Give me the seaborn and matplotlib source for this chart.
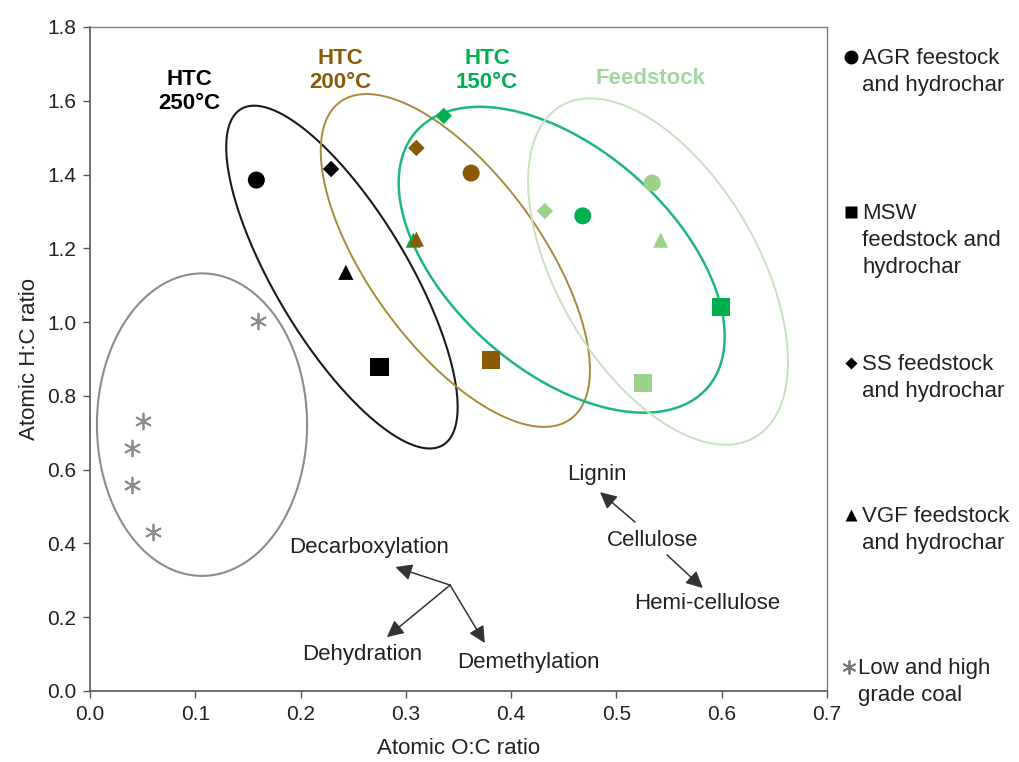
import numpy as np
import pandas as pd
import matplotlib
matplotlib.use("Agg")
import matplotlib.pyplot as plt
import seaborn as sns
from matplotlib.lines import Line2D

# ---------------- data ----------------
groups = ["Feedstock", "HTC 150°C", "HTC 200°C", "HTC 250°C", "Coal"]
# Feedstock
feed_type = ["AGR", "SS", "VGF", "MSW"]
feed_oc = [0.534, 0.432, 0.542, 0.525]
feed_hc = [1.377, 1.301, 1.222, 0.835]
# HTC 150
h150_type = ["SS", "AGR", "MSW", "VGF"]
h150_oc = [0.336, 0.468, 0.599, 0.307]
h150_hc = [1.559, 1.288, 1.041, 1.222]
# HTC 200
h200_type = ["SS", "AGR", "VGF", "MSW"]
h200_oc = [0.310, 0.362, 0.310, 0.381]
h200_hc = [1.472, 1.404, 1.225, 0.897]
# HTC 250
h250_type = ["AGR", "SS", "VGF", "MSW"]
h250_oc = [0.158, 0.229, 0.243, 0.275]
h250_hc = [1.385, 1.415, 1.135, 0.878]
# Coal
coal_type = ["Coal"] * 5
coal_oc = [0.160, 0.050, 0.040, 0.040, 0.060]
coal_hc = [1.003, 0.732, 0.659, 0.558, 0.431]

x_ticks = [0.0, 0.1, 0.2, 0.3, 0.4, 0.5, 0.6, 0.7]
y_ticks = [0.0, 0.2, 0.4, 0.6, 0.8, 1.0, 1.2, 1.4, 1.6, 1.8]

legend_labels = ["AGR feestock\nand hydrochar", "MSW\nfeedstock and\nhydrochar",
                 "SS feedstock\nand hydrochar", "VGF feedstock\nand hydrochar",
                 "Low and high\ngrade coal"]

# ---------------- style ----------------
sns.set_style("white")
plt.rcParams["font.family"] = ["Liberation Sans", "DejaVu Sans"]

col = {"Feedstock": "#9dd28c", "HTC 150°C": "#00b04f", "HTC 200°C": "#8b5a06",
       "HTC 250°C": "#000000", "Coal": "#8c8c8c"}
ell_col = {"Feedstock": "#c6e2c0", "HTC 150°C": "#1db87a", "HTC 200°C": "#a88a3a",
           "HTC 250°C": "#1a1a1a", "Coal": "#8c8c8c"}
markers = {"AGR": "o", "MSW": "s", "SS": "D", "VGF": "^", "Coal": (6, 2, 0)}
sizes = {"AGR": 150, "MSW": 170, "SS": 70, "VGF": 120, "Coal": 130}

rows = []
for g, t, xs, ys in [("Feedstock", feed_type, feed_oc, feed_hc),
                     ("HTC 150°C", h150_type, h150_oc, h150_hc),
                     ("HTC 200°C", h200_type, h200_oc, h200_hc),
                     ("HTC 250°C", h250_type, h250_oc, h250_hc),
                     ("Coal", coal_type, coal_oc, coal_hc)]:
    for ti, xi, yi in zip(t, xs, ys):
        rows.append({"group": g, "type": ti, "oc": xi, "hc": yi})
df = pd.DataFrame(rows)

fig = plt.figure(figsize=(10.19, 7.62), dpi=100)
ax = fig.add_axes([0.0883, 0.0932, 0.7233, 0.8714])

for g in groups:
    sub = df[df.group == g]
    for t in sub.type.unique():
        s2 = sub[sub.type == t]
        if t == "Coal":
            sns.scatterplot(data=s2, x="oc", y="hc", marker=markers[t], s=sizes[t],
                            color=col[g], edgecolor=col[g], linewidth=1.3, ax=ax,
                            legend=False, zorder=3)
        else:
            sns.scatterplot(data=s2, x="oc", y="hc", marker=markers[t], s=sizes[t],
                            color=col[g], edgecolor="none", linewidth=0, ax=ax,
                            legend=False, zorder=3)

ax.set_xlim(0, 0.7)
ax.set_ylim(0, 1.8)
ax.set_xticks(x_ticks)
ax.set_yticks(y_ticks)
ax.set_xticklabels([f"{v:.1f}" for v in x_ticks])
ax.set_yticklabels([f"{v:.1f}" for v in y_ticks])
ax.tick_params(axis="both", labelsize=15, labelcolor="#222222", color="#555555",
               direction="out", length=5, width=1, bottom=True, left=True, pad=5)
for side in ["left", "bottom"]:
    ax.spines[side].set_color("#555555")
    ax.spines[side].set_linewidth(1.2)
for side in ["top", "right"]:
    ax.spines[side].set_color("#808080")
    ax.spines[side].set_linewidth(1.0)
ax.set_xlabel("Atomic O:C ratio", fontsize=16, color="#222222", labelpad=10)
ax.set_ylabel("Atomic H:C ratio", fontsize=16, color="#222222", labelpad=5)

# ---------------- ellipses (defined in pixel-like units) ----------------
kx = 1052.9  # px per x unit
ky = 368.9   # px per y unit
ellipses = [
    # group, center (data), semi-major px, semi-minor px, angle deg, lw
    ("HTC 250°C", 0.2393, 1.122, 196, 66, -59.0, 1.5),
    ("HTC 200°C", 0.3470, 1.167, 196, 86, -54.0, 1.4),
    ("HTC 150°C", 0.4480, 1.169, 194, 111, -41.4, 1.8),
    ("Feedstock", 0.5395, 1.137, 192, 100, -59.6, 1.4),
]
t = np.linspace(0, 2 * np.pi, 400)
for g, cx, cy, a, b, ang, lw in ellipses:
    th = np.deg2rad(ang)
    px = a * np.cos(th) * np.cos(t) - b * np.sin(th) * np.sin(t)
    py = a * np.sin(th) * np.cos(t) + b * np.cos(th) * np.sin(t)
    ax.plot(cx + px / kx, cy + py / ky, color=ell_col[g], lw=lw, zorder=2)
# coal ellipse (axis aligned)
ax.plot(0.1064 + 0.0998 * np.cos(t), 0.722 + 0.410 * np.sin(t),
        color=ell_col["Coal"], lw=1.5, zorder=2)

# ---------------- group labels ----------------
lab_kw = dict(ha="center", va="center", fontsize=16, fontweight="bold", linespacing=1.2)
ax.text(0.094, 1.626, "HTC\n250°C", color=col["HTC 250°C"], **lab_kw)
ax.text(0.238, 1.683, "HTC\n200°C", color="#8b5a06", **lab_kw)
ax.text(0.377, 1.681, "HTC\n150°C", color=col["HTC 150°C"], **lab_kw)
ax.text(0.532, 1.661, "Feedstock", color="#a3d6a0", **lab_kw)

# ---------------- pathway arrows ----------------
ak = dict(arrowstyle="-|>,head_length=1.0,head_width=0.5", color="#333333",
          lw=1.1, shrinkA=0, shrinkB=0)
origin = (0.342, 0.287)
for tgt in [(0.290, 0.336), (0.282, 0.146), (0.375, 0.130)]:
    ax.annotate("", xy=tgt, xytext=origin, arrowprops=ak)
txt_kw = dict(ha="center", va="center", fontsize=16, color="#222222")
ax.text(0.265, 0.390, "Decarboxylation", **txt_kw)
ax.text(0.259, 0.098, "Dehydration", **txt_kw)
ax.text(0.416, 0.076, "Demethylation", **txt_kw)
ax.annotate("", xy=(0.4844, 0.539), xytext=(0.5176, 0.458), arrowprops=ak)
ax.annotate("", xy=(0.582, 0.279), xytext=(0.548, 0.369), arrowprops=ak)
ax.text(0.4815, 0.5855, "Lignin", **txt_kw)
ax.text(0.5347, 0.409, "Cellulose", **txt_kw)
ax.text(0.586, 0.2385, "Hemi-cellulose", **txt_kw)

# ---------------- legend (right side) ----------------
leg_y = [57, 212, 363, 515, 667]  # px from top, centre of first line
leg_mk = ["o", "s", "D", "^", (6, 2, 0)]
leg_ms = [10, 8, 6.5, 9, 10]
W, H = 1019.0, 762.0
for lab, yp, mk, ms in zip(legend_labels, leg_y, leg_mk, leg_ms):
    fy = 1 - yp / H
    if mk == (6, 2, 0):
        fig.add_artist(Line2D([849 / W], [fy], marker=mk, ms=ms, color="#777777",
                              mew=1.3, ls="none", transform=fig.transFigure))
        x0 = 858 / W
    else:
        fig.add_artist(Line2D([851 / W], [fy], marker=mk, ms=ms, color="black",
                              mec="none", ls="none", transform=fig.transFigure))
        x0 = 862 / W
    fig.text(x0, fy + 9 / H, lab, ha="left", va="top", fontsize=16,
             color="#222222", linespacing=1.38)

fig.savefig("out.png", dpi=100)
